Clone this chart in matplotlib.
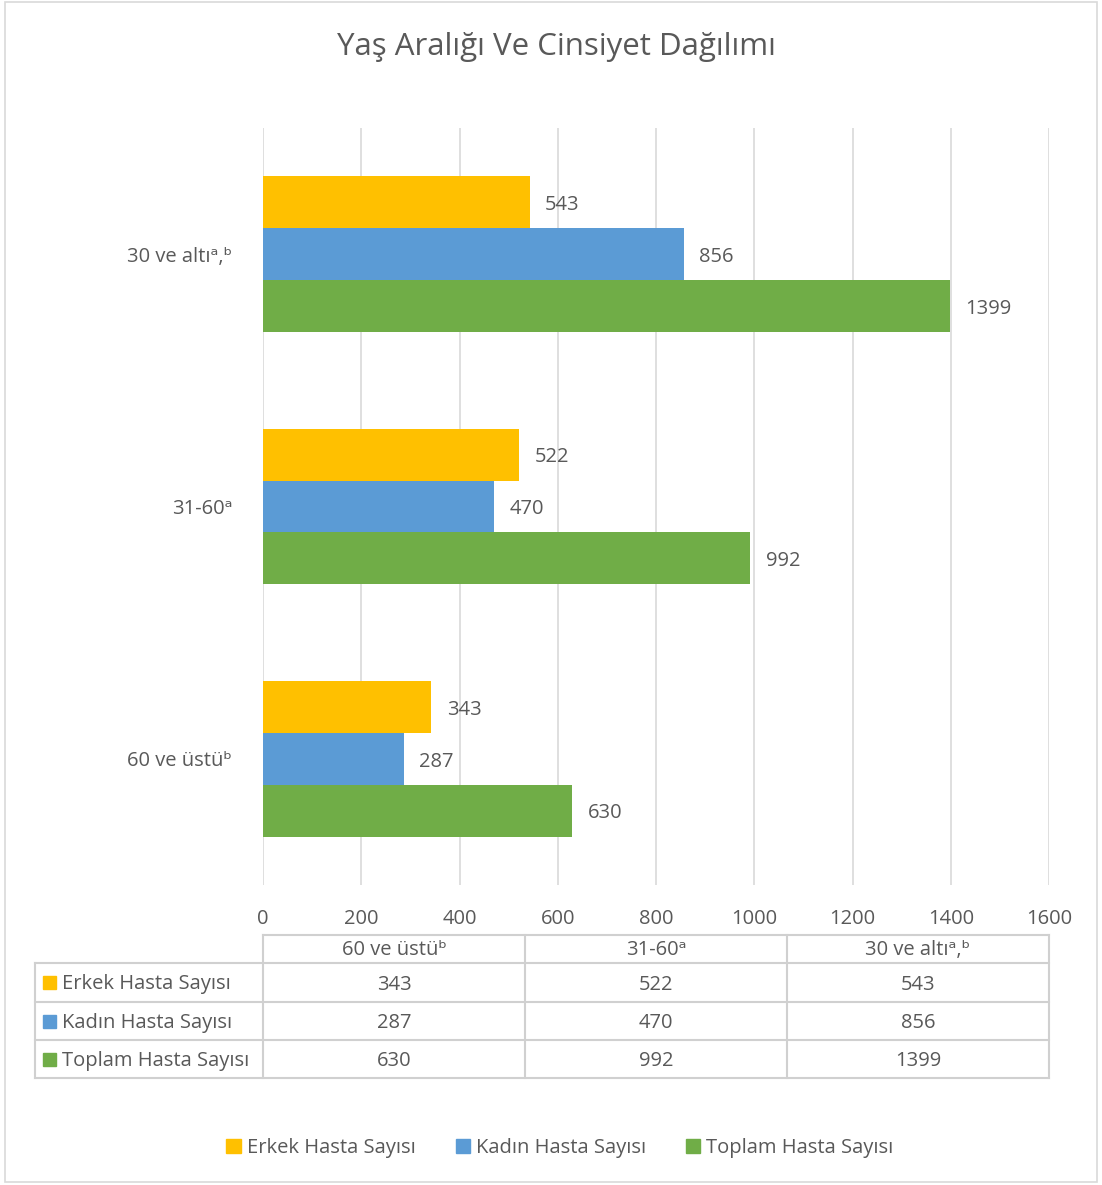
import matplotlib
matplotlib.use("Agg")
import matplotlib.pyplot as plt
from matplotlib.patches import Rectangle
from matplotlib.lines import Line2D

plt.rcParams['font.family'] = ['Open Sans', 'DejaVu Sans']

title = "Yaş Aralığı Ve Cinsiyet Dağılımı"
categories = ["60 ve üstüᵇ", "31-60ᵃ", "30 ve altıᵃ,ᵇ"]
series_names = ["Erkek Hasta Sayısı", "Kadın Hasta Sayısı", "Toplam Hasta Sayısı"]
erkek = [343, 522, 543]
kadin = [287, 470, 856]
toplam = [630, 992, 1399]
xticks = [0, 200, 400, 600, 800, 1000, 1200, 1400, 1600]

colors = ["#FFC000", "#5B9BD5", "#70AD47"]
txt = "#595959"
grid = "#D9D9D9"

W, H = 1102, 1185
fig = plt.figure(figsize=(W / 100, H / 100), dpi=100)


def fx(x):
    return x / W


def fy(y):
    return 1 - y / H


# outer chart border
fig.add_artist(Rectangle((fx(5), fy(1182)), fx(1097) - fx(5), fy(2) - fy(1182),
                         transform=fig.transFigure, fill=False, edgecolor="#D9D9D9", lw=1.2))

ax = fig.add_axes([fx(263), fy(885), fx(1049) - fx(263), fy(128) - fy(885)])

h = 52 / 253
series = [erkek, kadin, toplam]
offsets = [h, 0, -h]
for vals, off, col in zip(series, offsets, colors):
    ys = [i + off for i in range(len(categories))]
    ax.barh(ys, vals, height=h, color=col, zorder=3)
    for y, v in zip(ys, vals):
        ax.annotate(str(v), (v, y), xytext=(11, -2), textcoords="offset points",
                    va="center", ha="left", fontsize=14.5, color=txt)

ax.set_xlim(0, 1600)
ax.set_ylim(-0.5, 2.5)
ax.set_xticks(xticks)
ax.set_xticklabels([str(t) for t in xticks])
ax.set_yticks(range(len(categories)))
ax.set_yticklabels(categories)
ax.tick_params(axis="x", length=0, pad=17, labelsize=14.5, labelcolor=txt)
ax.tick_params(axis="y", length=0, pad=22, labelsize=14.5, labelcolor=txt)
ax.grid(axis="x", color=grid, lw=1.2, zorder=0)
for s in ax.spines.values():
    s.set_visible(False)

fig.text(fx(556), fy(47), title, fontsize=22.5, color=txt, ha="center", va="center")

# data table
tcol = "#D0D0D0"
col_x = [263, 525, 787, 1049]
row_y = [935, 963, 1002, 1040, 1078]


def hline(x0, x1, y):
    fig.add_artist(Line2D([fx(x0), fx(x1)], [fy(y), fy(y)], transform=fig.transFigure,
                          color=tcol, lw=1.5))


def vline(x, y0, y1):
    fig.add_artist(Line2D([fx(x), fx(x)], [fy(y0), fy(y1)], transform=fig.transFigure,
                          color=tcol, lw=1.5))


hline(263, 1049, row_y[0])
for y in row_y[1:]:
    hline(35, 1049, y)
for x in col_x:
    vline(x, row_y[0], row_y[-1])
vline(35, row_y[1], row_y[-1])

for j, cat in enumerate(categories):
    cx = (col_x[j] + col_x[j + 1]) / 2
    fig.text(fx(cx), fy((row_y[0] + row_y[1]) / 2 + 1), cat, ha="center", va="center",
             fontsize=14.5, color=txt)
    for i, vals in enumerate(series):
        cy = (row_y[i + 1] + row_y[i + 2]) / 2
        fig.text(fx(cx), fy(cy + 2), str(vals[j]), ha="center", va="center",
                 fontsize=14.5, color=txt)

for i, name in enumerate(series_names):
    cy = (row_y[i + 1] + row_y[i + 2]) / 2
    fig.add_artist(Rectangle((fx(43), fy(cy + 6.5)), fx(13), fy(0) - fy(13),
                             transform=fig.transFigure, color=colors[i]))
    fig.text(fx(62), fy(cy + 2), name, ha="left", va="center", fontsize=14.5, color=txt)

# legend
handles = [Rectangle((0, 0), 1, 1, color=c) for c in colors]
fig.legend(handles, series_names, loc="center", bbox_to_anchor=(fx(560), fy(1148)),
           ncol=3, frameon=False, fontsize=14.5, labelcolor=txt,
           handlelength=0.7, handleheight=0.7, handletextpad=0.3, columnspacing=2.0)

fig.savefig("out.png", dpi=100, facecolor="white")
